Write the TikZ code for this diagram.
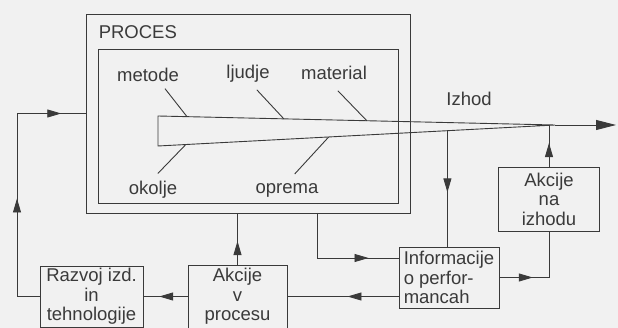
\documentclass[tikz,border=0pt]{standalone}
\usepackage{fontspec}
\setmainfont{Liberation Sans}
\usepackage{tikz}
\usetikzlibrary{calc}
\usetikzlibrary{arrows.meta}
\usetikzlibrary{decorations.markings}
\definecolor{ink}{RGB}{58,58,58}
\definecolor{paper}{RGB}{241,241,241}

\tikzset{
  blok/.style={draw, align=center, inner sep=1pt, outer sep=0pt},
  midarrow/.style={postaction={decorate, decoration={markings,
      mark=at position #1 with {\arrow{Triangle[length=14pt,width=8pt]}}}}},
}

\begin{document}
\begin{tikzpicture}[x=1pt,y=-1pt, color=ink, line width=0.9pt, font=\fontsize{18.5}{19.5}\selectfont]
  \fill[paper] (0,0) rectangle (618,328);
  \useasboundingbox (0,0) rectangle (618,328);

  % proces
  \node[draw, outer sep=0pt, minimum width=324pt, minimum height=199pt] (proces) at (248,113.5) {};
  \node[draw, outer sep=0pt, minimum width=300pt, minimum height=154pt] (jedro)  at (248,126) {};
  \node[anchor=west] (naslov) at (95,32) {PROCES};

  \coordinate (zg)  at (158,116);
  \coordinate (sp)  at (158,146);
  \coordinate (vrh) at (555,125);
  \coordinate (konec) at (616,125);
  \draw (vrh) -- (zg) -- (sp) -- cycle;
  \draw[-{Triangle[length=20pt,width=10pt]}] (vrh) -- (konec);

  \node (metode)   at (148,75)  {metode};
  \node (ljudje)   at (248,74)  {ljudje};
  \node (material) at (334,73)  {material};
  \node (okolje)   at (153,190) {okolje};
  \node (oprema)   at (287,190) {oprema};
  \node (izhod)    at (469,99)  {Izhod};

  \draw ($(zg)!0.073!(vrh)$) -- +(-22,-28);
  \draw ($(zg)!0.317!(vrh)$) -- +(-27,-29);
  \draw ($(zg)!0.526!(vrh)$) -- +(-29,-30);
  \draw ($(sp)!0.070!(vrh)$) -- +(-28,29);
  \draw ($(sp)!0.430!(vrh)$) -- +(-34,37);

  % bloki
  \node[blok, minimum width=103pt, minimum height=61pt] (razvoj) at (91.5,296.5) {Razvoj izd.\\in\\tehnologije};
  \node[blok, minimum width=99pt,  minimum height=63pt] (akproc) at (237.5,296.5) {Akcije\\v\\procesu};
  \node[blok, align=left, minimum width=100pt, minimum height=61pt] (info) at (449,277.5) {Informacije\\o perfor-\\mancah};
  \node[blok, minimum width=101pt, minimum height=64pt] (akizh) at (549,199) {Akcije\\na\\izhodu};

  % povezave
  \draw[midarrow=0.44, midarrow=0.91] (razvoj.west) -- ++(-23,0) |- (proces.west);
  \draw[midarrow=0.64] (akproc.west) -- (razvoj.east);
  \draw[midarrow=0.46] (akproc.north) -- (akproc.north |- proces.south);
  \draw[midarrow=0.76] ($(proces.south)+(69,0)$) |- ($(info.west)+(0,-19.5)$);
  \draw[midarrow=0.46] (info.west |- akproc.east) -- (akproc.east);
  \coordinate (odcep) at ($(sp)!0.729!(vrh)$);
  \draw[midarrow=0.53] (odcep) -- (odcep |- info.north);
  \draw[midarrow=0.35] (info.east) -| (akizh.south);
  \draw[midarrow=0.57] (akizh.north) -- (akizh.north |- vrh);
\end{tikzpicture}
\end{document}
